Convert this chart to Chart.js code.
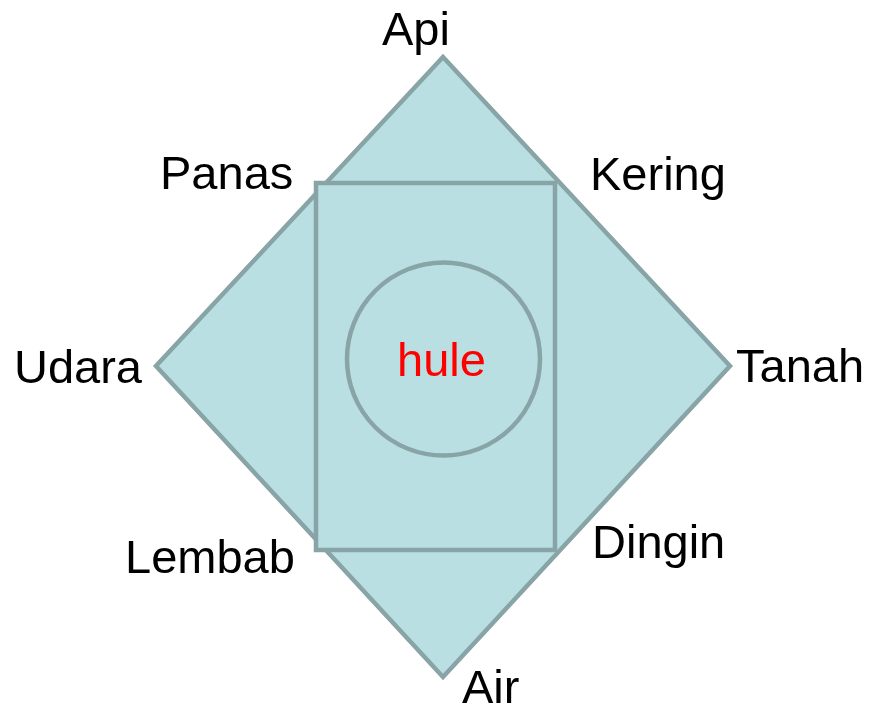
<!DOCTYPE html>
<html>
<head>
<meta charset="utf-8">
<script src="https://cdn.jsdelivr.net/npm/chart.js@4/dist/chart.umd.min.js"></script>
<style>
  html, body { margin: 0; padding: 0; background: #ffffff; }
  #wrap { width: 871px; height: 710px; position: relative; }
</style>
</head>
<body>
<div id="wrap"><canvas id="c"></canvas></div>
<script>
// Diagram geometry (diagram units, y grows downward)
const diamondX = [156, 443, 730, 443, 156, 443];
const diamondY = [366, 57, 366, 677, 366, 57];
const rectX = [316, 555, 555, 316, 316, 555];
const rectY = [183, 183, 550, 550, 183, 183];
const circleCenter = [443.5, 359];
const circleRadius = 96.5;

// Text labels
const labelNames = ['Api', 'Panas', 'Kering', 'Udara', 'Tanah', 'Lembab', 'Dingin', 'Air'];
const labelX = [382, 160, 590, 14, 736, 125, 592, 462];
const labelY = [45, 189, 190, 383, 382, 573, 558, 703];
const centerLabel = 'hule';
const centerLabelPos = [397, 376];

const FILL = '#b9dfe2';
const STROKE = '#88a4a6';

const toPts = (xs, ys) => xs.map((x, i) => ({ x: x, y: ys[i] }));

const labelPlugin = {
  id: 'diagramLabels',
  afterDatasetsDraw(chart) {
    const ctx = chart.ctx;
    const xs = chart.scales.x, ys = chart.scales.y;
    ctx.save();
    ctx.font = '47px "Liberation Sans", Arial, sans-serif';
    ctx.textAlign = 'left';
    ctx.textBaseline = 'alphabetic';
    ctx.fillStyle = '#000000';
    labelNames.forEach((t, i) => {
      ctx.fillText(t, xs.getPixelForValue(labelX[i]), ys.getPixelForValue(labelY[i]));
    });
    ctx.fillStyle = '#ff0000';
    ctx.fillText(centerLabel, xs.getPixelForValue(centerLabelPos[0]), ys.getPixelForValue(centerLabelPos[1]));
    ctx.restore();
  }
};

new Chart(document.getElementById('c'), {
  type: 'scatter',
  data: {
    datasets: [
      {
        label: 'circle',
        data: [{ x: circleCenter[0], y: circleCenter[1] }],
        pointRadius: circleRadius,
        pointHoverRadius: circleRadius,
        pointStyle: 'circle',
        backgroundColor: 'rgba(0,0,0,0)',
        borderColor: STROKE,
        pointBorderWidth: 4.5,
        borderWidth: 4.5,
        order: 1,
        clip: false
      },
      {
        label: 'rect',
        data: toPts(rectX, rectY),
        showLine: true,
        fill: 'shape',
        tension: 0,
        pointRadius: 0,
        pointHoverRadius: 0,
        backgroundColor: FILL,
        borderColor: STROKE,
        borderWidth: 4.5,
        borderJoinStyle: 'miter',
        order: 2,
        clip: false
      },
      {
        label: 'diamond',
        data: toPts(diamondX, diamondY),
        showLine: true,
        fill: 'shape',
        tension: 0,
        pointRadius: 0,
        pointHoverRadius: 0,
        backgroundColor: FILL,
        borderColor: STROKE,
        borderWidth: 4.5,
        borderJoinStyle: 'miter',
        order: 3,
        clip: false
      }
    ]
  },
  options: {
    responsive: true,
    maintainAspectRatio: false,
    animation: false,
    events: [],
    layout: { padding: 0, autoPadding: false },
    plugins: { legend: { display: false }, tooltip: { enabled: false } },
    scales: {
      x: { type: 'linear', min: 0, max: 871, display: false },
      y: { type: 'linear', min: 0, max: 710, reverse: true, display: false }
    }
  },
  plugins: [labelPlugin]
});
</script>
</body>
</html>
